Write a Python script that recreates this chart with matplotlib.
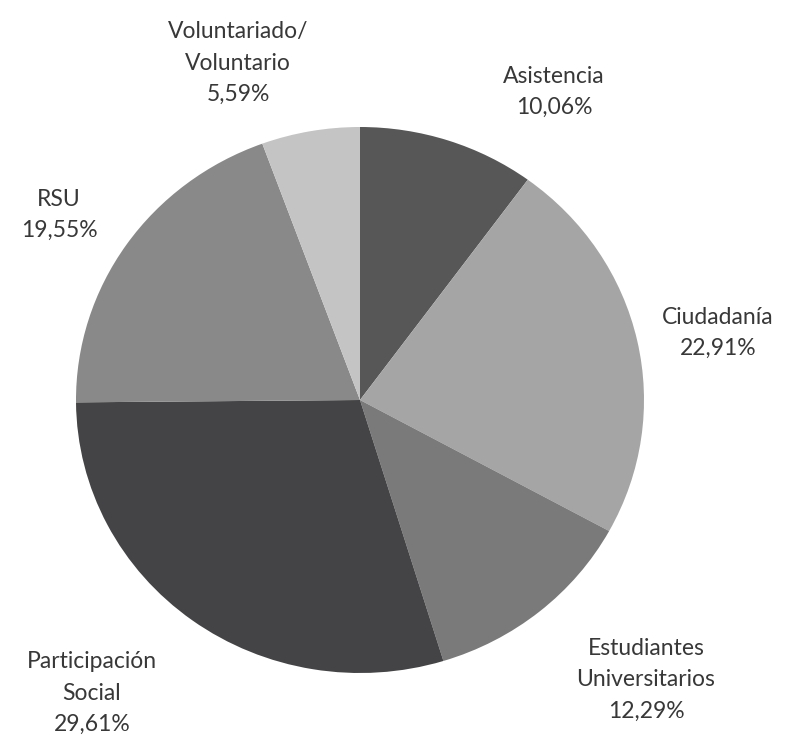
import matplotlib
matplotlib.use('Agg')
import matplotlib.pyplot as plt

# Data
categorias = ['Asistencia', 'Ciudadanía', 'Estudiantes\nUniversitarios',
              'Participación\nSocial', 'RSU', 'Voluntariado/\nVoluntario']
porcentajes = [10.06, 22.91, 12.29, 29.61, 19.55, 5.59]
colores = ['#575757', '#a5a5a5', '#7a7a7a', '#444446', '#898989', '#c4c4c4']

# label centres in pixel coords (layout only)
pos_labels = [(554, 92), (718, 333), (646, 680), (92, 693), (59, 215), (238, 63)]

W, H = 805, 740
cx, cy = 360, 400      # pie centre (px from top-left)
rx, ry = 284, 273      # the original pie is slightly stretched

fig = plt.figure(figsize=(W / 100, H / 100), dpi=100)
ax = fig.add_axes([0, 0, 1, 1])

ax.pie(porcentajes, colors=colores, startangle=90, counterclock=False,
       radius=1, wedgeprops={'linewidth': 0})
ax.set_aspect('auto')
ax.set_xlim(-cx / rx, (W - cx) / rx)
ax.set_ylim(-(H - cy) / ry, cy / ry)
ax.axis('off')

for cat, val, (x, y) in zip(categorias, porcentajes, pos_labels):
    txt = cat + '\n' + ('%.2f' % val).replace('.', ',') + '%'
    fig.text(x / W, 1 - y / H, txt, ha='center', va='center', fontsize=16.5,
             family='Lato', color='#383838', linespacing=1.6)

fig.savefig('out.png', dpi=100)
